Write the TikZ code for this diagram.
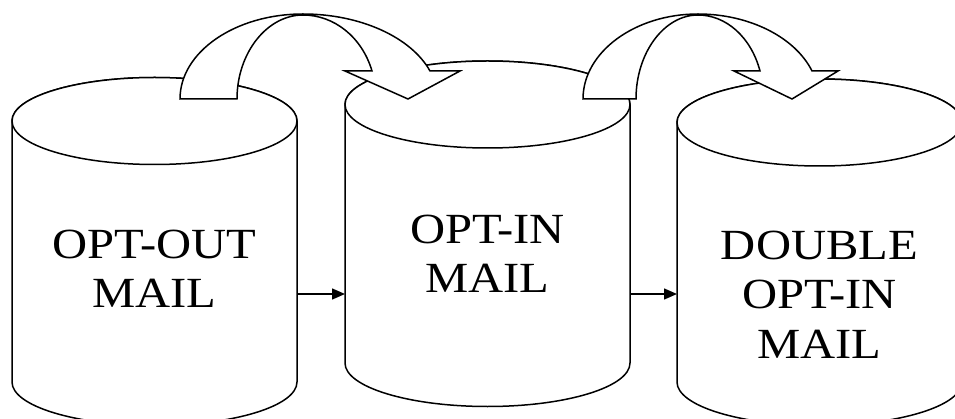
\documentclass[tikz,border=0pt]{standalone}
\usepackage{fontspec}
\setmainfont{Liberation Serif}[FakeStretch=1.13]
\usetikzlibrary{arrows.meta}
\newcommand\drawcyl[3]{%
  \draw[cyl] ({#1-142.5},#2) -- ({#1-142.5},#3)
    arc[start angle=180,end angle=0,x radius=142.5,y radius=43.5]
    -- ({#1+142.5},#2)
    arc[start angle=0,end angle=-180,x radius=142.5,y radius=43.5] -- cycle;
  \draw[cyl] (#1,#2) ellipse[x radius=142.5,y radius=43.5];}
\begin{document}
\begin{tikzpicture}[x=1pt,y=-1pt,line width=1.5pt,line join=round,
  cyl/.style={draw=black,fill=white},
  lbl/.style={font=\fontsize{43}{49.5}\selectfont,align=center,anchor=base,inner sep=0pt},
  bendarrow/.style={draw=black,fill=white,line join=miter},
  link/.style={-{Triangle[length=13pt,width=11pt]},line width=1.5pt}]
\useasboundingbox (0,0) rectangle (955,419);
\clip (0,0) rectangle (955,419);

% cylinders
\drawcyl{154.5}{121}{382}
\drawcyl{487.5}{104.5}{363}
\drawcyl{819.5}{122.5}{382}

% labels (base = baseline of last line)
\node[lbl] (t1) at (154.5,308) {OPT-OUT\\MAIL};
\node[lbl] (t2) at (487.5,293) {OPT-IN\\MAIL};
\node[lbl] (t3) at (819.5,358) {DOUBLE\\OPT-IN\\MAIL};

% connectors between cylinders
\coordinate (c1out) at (297,294);
\coordinate (c2in) at (345,294);
\coordinate (c2out) at (630,294);
\coordinate (c3in) at (677,294);
\draw[link] (c1out) -- (c2in);
\draw[link] (c2out) -- (c3in);

% curved block arrows
\draw[bendarrow] (180,99) .. controls (180,52) and (235,14) .. (303,14)
  .. controls (360,14) and (411,37) .. (430,71) -- (460,71) -- (408,99) -- (345,71) -- (372,71)
  .. controls (362,37) and (334,15) .. (303,15)
  .. controls (267,15) and (237,53) .. (237,99) -- cycle;
\draw[bendarrow] (583,99) .. controls (583,52) and (635,14) .. (698,14)
  .. controls (749,14) and (795,37) .. (812,71) -- (838,71) -- (792,99) -- (734,71) -- (760,71)
  .. controls (751,37) and (726,15) .. (698,15)
  .. controls (664,15) and (636,53) .. (636,99) -- cycle;
\end{tikzpicture}
\end{document}
